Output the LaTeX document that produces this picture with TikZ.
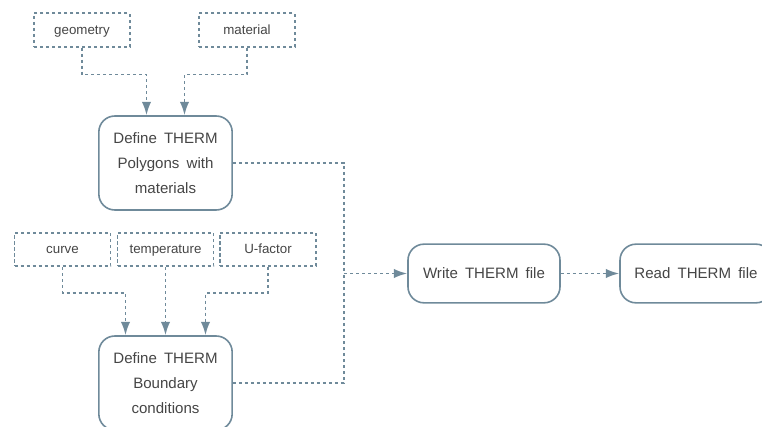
\documentclass[tikz,border=0pt]{standalone}
\usepackage{fontspec}
\setmainfont[WordSpace=1.7]{Liberation Sans}
\usetikzlibrary{arrows.meta}
\definecolor{lnk}{HTML}{6F8A9A}
\definecolor{txt}{HTML}{454545}
\tikzset{>={Latex[length=10pt,width=7pt]},
  inp/.style={draw=lnk, line width=1.3pt, dash pattern=on 2.3pt off 2.2pt, text=txt,
    minimum width=72pt, minimum height=25pt, text height=1.6ex, text depth=.45ex,
    font=\fontsize{10}{12}\selectfont},
  proc/.style={draw=lnk, line width=1.2pt, rounded corners=12pt, text=txt, align=center,
    font=\fontsize{11.3}{19}\selectfont},
  lnk/.style={draw=lnk, line width=1.3pt, dash pattern=on 2.3pt off 2.2pt}}

\begin{document}
\begin{tikzpicture}[x=0.75pt, y=-0.75pt]
    \useasboundingbox(0, 0)rectangle(762, 427);
    \clip(0, 0)rectangle(762, 427);
    \node[inp](geo)at(82, 30){geometry};
    \node[inp](mat)at(247, 30){material};
    \node[proc, minimum width=100pt, minimum height=70.5pt](poly)at(165.5, 163){Define THERM\\Polygons with\\materials};
    \node[inp](crv)at(62.5, 249.5){curve};
    \node[inp](tmp)at(165.5, 249.5){temperature};
    \node[inp](ufc)at(268, 249.5){U-factor};
    \node[proc, minimum width=100pt, minimum height=70.5pt](bnd)at(165.5, 383){Define THERM\\Boundary\\conditions};
    \node[proc, minimum width=114pt, minimum height=44pt](wrt)at(484, 273.5){Write THERM file};
    \node[proc, minimum width=114pt, minimum height=44pt](rd)at(696, 273.5){Read THERM file};
    \coordinate(jn)at(344, 273.5);
    \draw[lnk, ->](geo.south)--++(0, 27)-|([xshift=-14.25pt]poly.north);
    \draw[lnk, ->](mat.south)--++(0, 27)-|([xshift=14.25pt]poly.north);
    \draw[lnk, ->](crv.south)--++(0, 26)-|([xshift=-30pt]bnd.north);
    \draw[lnk, ->](tmp.south)--(bnd.north);
    \draw[lnk, ->](ufc.south)--++(0, 26)-|([xshift=30pt]bnd.north);
    \draw[lnk](poly.east)-|(jn);
    \draw[lnk](bnd.east)-|(jn);
    \draw[lnk, ->](jn)--(wrt.west);
    \draw[lnk, ->](wrt.east)--(rd.west);
\end{tikzpicture}
\end{document}
